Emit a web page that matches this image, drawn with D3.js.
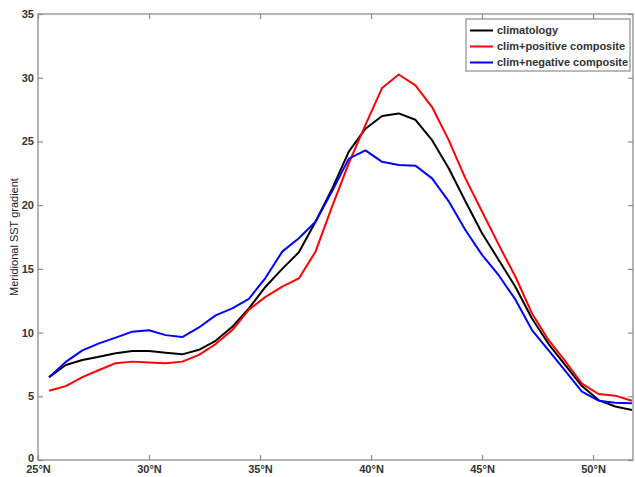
<!DOCTYPE html>
<html>
<head>
<meta charset="utf-8">
<script src="https://cdn.jsdelivr.net/npm/d3@7"></script>
<style>
  body { margin: 0; background: #fff; }
  svg { display: block; font-family: Arial, "Liberation Sans", sans-serif; }
</style>
</head>
<body>
<svg id="chart" width="635" height="477"></svg>
<script>
// ----------------------
// data
// ----------------------
const lats = [25.5, 26.25, 27, 27.75, 28.5, 29.25, 30, 30.75, 31.5, 32.25, 33, 33.75,
  34.5, 35.25, 36, 36.75, 37.5, 38.25, 39, 39.75, 40.5, 41.25, 42, 42.75,
  43.5, 44.25, 45, 45.75, 46.5, 47.25, 48, 48.75, 49.5, 50.25, 51, 51.75];

const climatology = [6.5, 7.45, 7.85, 8.1, 8.37, 8.55, 8.55, 8.42, 8.29, 8.65, 9.35, 10.45,
  11.9, 13.6, 15.0, 16.3, 18.7, 21.3, 24.2, 26.0, 27.0, 27.2, 26.7, 25.1,
  22.9, 20.3, 17.8, 15.7, 13.6, 11.1, 9.1, 7.45, 5.8, 4.7, 4.2, 3.92];

const positiveComp = [5.44, 5.8, 6.5, 7.06, 7.6, 7.72, 7.66, 7.59, 7.72, 8.25, 9.1, 10.2,
  11.8, 12.8, 13.6, 14.25, 16.35, 19.9, 23.3, 26.3, 29.2, 30.25, 29.4, 27.7,
  25.1, 22.1, 19.5, 16.9, 14.4, 11.5, 9.4, 7.75, 6.0, 5.18, 5.05, 4.65];

const negativeComp = [6.5, 7.7, 8.6, 9.15, 9.6, 10.07, 10.18, 9.8, 9.65, 10.4, 11.35, 11.9,
  12.65, 14.3, 16.35, 17.4, 18.7, 21.1, 23.65, 24.3, 23.4, 23.15, 23.1, 22.1,
  20.3, 18.05, 16.1, 14.5, 12.6, 10.2, 8.6, 7.0, 5.36, 4.65, 4.5, 4.45];

const seriesNames = ["climatology", "clim+positive composite", "clim+negative composite"];
const seriesColors = ["#000000", "#ff0000", "#0000ff"];
const seriesValues = [climatology, positiveComp, negativeComp];

const xTicks = [25, 30, 35, 40, 45, 50];
const yTicks = [0, 5, 10, 15, 20, 25, 30, 35];

// ----------------------
// layout
// ----------------------
const svg = d3.select("#chart");
const plotLeft = 38, plotRight = 633, plotTop = 14, plotBottom = 460;

const x = d3.scaleLinear().domain([25, 51.8]).range([plotLeft, plotRight]);
const y = d3.scaleLinear().domain([0, 35]).range([plotBottom, plotTop]);

const axisColor = "#8c8c8c";
const tickLen = 5;

// frame
svg.append("rect")
  .attr("x", plotLeft).attr("y", plotTop)
  .attr("width", plotRight - plotLeft).attr("height", plotBottom - plotTop)
  .attr("fill", "none")
  .attr("stroke", axisColor)
  .attr("stroke-width", 1.3);

// axes (ticks inward, MATLAB style)
const xAxisB = svg.append("g")
  .attr("transform", `translate(0,${plotBottom})`)
  .call(d3.axisBottom(x).tickValues(xTicks).tickSizeInner(-tickLen).tickSizeOuter(0)
    .tickPadding(5).tickFormat(d => d + "°N"));
const xAxisT = svg.append("g")
  .attr("transform", `translate(0,${plotTop})`)
  .call(d3.axisTop(x).tickValues(xTicks).tickSizeInner(-tickLen).tickSizeOuter(0)
    .tickFormat(""));
const yAxisL = svg.append("g")
  .attr("transform", `translate(${plotLeft},0)`)
  .call(d3.axisLeft(y).tickValues(yTicks).tickSizeInner(-tickLen).tickSizeOuter(0)
    .tickPadding(4));
const yAxisR = svg.append("g")
  .attr("transform", `translate(${plotRight},0)`)
  .call(d3.axisRight(y).tickValues(yTicks).tickSizeInner(-tickLen).tickSizeOuter(0)
    .tickFormat(""));

[xAxisB, xAxisT, yAxisL, yAxisR].forEach(g => {
  g.select(".domain").remove();
  g.selectAll(".tick line").attr("stroke", axisColor).attr("stroke-width", 1.2);
  g.selectAll(".tick text")
    .attr("font-size", 11)
    .attr("font-family", "Arial, 'Liberation Sans', sans-serif")
    .attr("font-weight", "bold")
    .attr("fill", "#333");
});
// lift the "0" label a little so it clears the 25°N label
yAxisL.selectAll(".tick text").filter(d => d === 0).attr("dy", "0.1em");

// y label
svg.append("text")
  .attr("transform", `translate(18,${(plotTop + plotBottom) / 2}) rotate(-90)`)
  .attr("text-anchor", "middle")
  .attr("font-size", 11)
  .attr("fill", "#222")
  .text("Meridional SST gradient");

// ----------------------
// lines
// ----------------------
const line = d3.line()
  .x((d, i) => x(lats[i]))
  .y(d => y(d));

seriesValues.forEach((vals, i) => {
  svg.append("path")
    .datum(vals)
    .attr("fill", "none")
    .attr("stroke", seriesColors[i])
    .attr("stroke-width", 2)
    .attr("stroke-linejoin", "round")
    .attr("d", line);
});

// ----------------------
// legend
// ----------------------
const legend = svg.append("g").attr("transform", "translate(466,19)");
legend.append("rect")
  .attr("width", 164).attr("height", 52)
  .attr("fill", "#fff")
  .attr("stroke", axisColor)
  .attr("stroke-width", 1.2);

seriesNames.forEach((name, i) => {
  const ly = 11.5 + i * 16;
  legend.append("line")
    .attr("x1", 4).attr("x2", 27)
    .attr("y1", ly).attr("y2", ly)
    .attr("stroke", seriesColors[i])
    .attr("stroke-width", 2);
  legend.append("text")
    .attr("x", 31).attr("y", ly)
    .attr("dy", "0.35em")
    .attr("font-size", 11)
    .attr("font-weight", "bold")
    .attr("fill", "#333")
    .text(name);
});
</script>
</body>
</html>
